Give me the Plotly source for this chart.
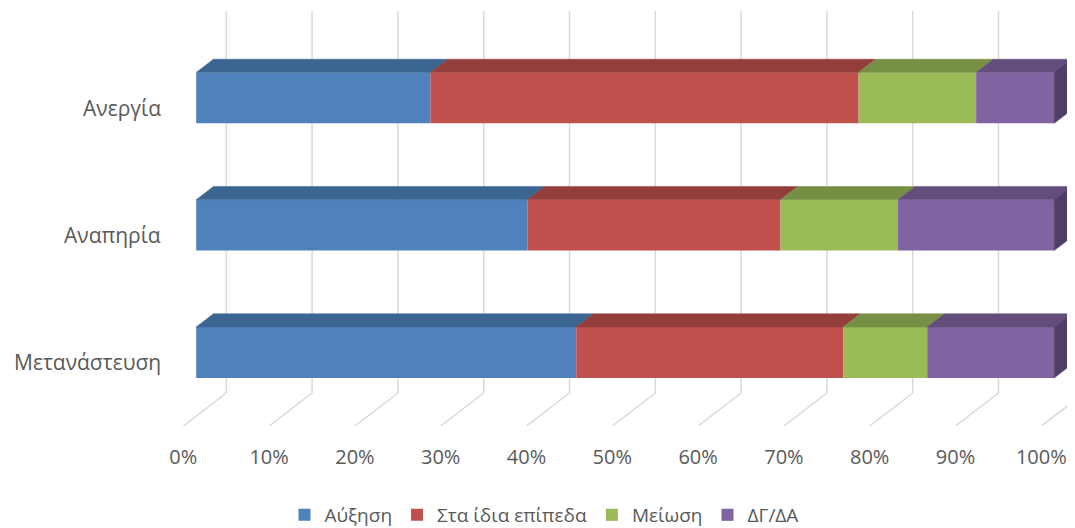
import plotly.graph_objects as go

# ---- data ----
categories = ["Μετανάστευση", "Αναπηρία", "Ανεργία"]  # bottom to top
series_names = ["Αύξηση", "Στα ίδια επίπεδα", "Μείωση", "ΔΓ/ΔΑ"]
increase = [44.3, 38.6, 27.3]
same_level = [31.1, 29.5, 49.9]
decrease = [9.8, 13.7, 13.7]
dk_na = [14.8, 18.2, 9.1]
tick_values = list(range(0, 101, 10))
tick_labels = [f"{v}%" for v in tick_values]

series_values = [increase, same_level, decrease, dk_na]

# ---- styles ----
front_colors = ["#4F81BD", "#C0504D", "#9BBB59", "#8064A2"]
top_colors = ["#3D6592", "#943E3B", "#778F45", "#624D7D"]
side_color = "#4F3F66"
grid_color = "#D9D9D9"
text_color = "#595959"
FONT = "Open Sans"

# ---- geometry (pixel mapping of the pseudo-3D projection) ----
OFF = 8                 # page body margin of the html page
W, H = 1075 - OFF, 528 - OFF
MB = 102
PX0 = 183.3 - OFF       # pixel of 0% on the front plane (figure coords)
PPX = 8.58              # pixels per percent
PPY = 127.3             # pixels per category step
plot_h = H - MB
x_range = [-PX0 / PPX, (W - PX0) / PPX]
y_range = [-0.5, -0.5 + plot_h / PPY]
DX = 43 / PPX      # depth offset in x (data units)
DY = 33 / PPY      # depth offset in y (data units)
D0, D1 = 0.3, 0.7  # bar depth start / end fraction
BW = 0.4           # bar thickness (category units)

ypos = list(range(len(categories)))

fig = go.Figure()

# front faces
cum = [0.0] * len(categories)
bases_all = []
for i, (name, vals) in enumerate(zip(series_names, series_values)):
    bases = [c for c in cum]
    bases_all.append(bases)
    fig.add_trace(go.Bar(
        orientation="h",
        y=[k + D0 * DY for k in ypos],
        x=vals,
        base=[b + D0 * DX for b in bases],
        width=BW,
        name=name,
        marker=dict(color=front_colors[i], line=dict(width=0)),
        hoverinfo="skip",
    ))
    cum = [c + v for c, v in zip(cum, vals)]

# top faces
for i, vals in enumerate(series_values):
    xs, ys = [], []
    for k, (b, v) in enumerate(zip(bases_all[i], vals)):
        yt = k + BW / 2 + D0 * DY
        x0 = b + D0 * DX
        x1 = b + v + D0 * DX
        ddx = (D1 - D0) * DX
        ddy = (D1 - D0) * DY
        xs += [x0, x1, x1 + ddx, x0 + ddx, x0, None]
        ys += [yt, yt, yt + ddy, yt + ddy, yt, None]
    fig.add_trace(go.Scatter(
        x=xs, y=ys, mode="lines", fill="toself",
        fillcolor=top_colors[i],
        line=dict(color=top_colors[i], width=0.5),
        showlegend=False, hoverinfo="skip",
    ))

# right side face of the last segment
xs, ys = [], []
for k, total in enumerate(cum):
    xf = total + D0 * DX
    yb = k - BW / 2 + D0 * DY
    yt = k + BW / 2 + D0 * DY
    ddx = (D1 - D0) * DX
    ddy = (D1 - D0) * DY
    xs += [xf, xf + ddx, xf + ddx, xf, xf, None]
    ys += [yb, yb + ddy, yt + ddy, yt, yb, None]
fig.add_trace(go.Scatter(
    x=xs, y=ys, mode="lines", fill="toself",
    fillcolor=side_color, line=dict(color=side_color, width=0.5),
    showlegend=False, hoverinfo="skip",
))

# gridlines: floor diagonals + back-wall verticals
shapes = []
y_floor = -0.5
y_top = len(categories) - 0.5
for v in tick_values:
    shapes.append(dict(type="line", xref="x", yref="y",
                       x0=v, y0=y_floor, x1=v + DX, y1=y_floor + DY,
                       line=dict(color=grid_color, width=1.5), layer="below"))
    shapes.append(dict(type="line", xref="x", yref="y",
                       x0=v + DX, y0=y_floor + DY, x1=v + DX, y1=y_top + DY,
                       line=dict(color=grid_color, width=1.5), layer="below"))

# category labels
annotations = []
for k, cat in enumerate(categories):
    annotations.append(dict(
        x=(163 - OFF - PX0) / PPX, y=k, xref="x", yref="y",
        text=cat, showarrow=False, xanchor="right", yanchor="middle",
        font=dict(family=FONT, size=21, color=text_color),
    ))

fig.update_layout(
    width=W, height=H,
    margin=dict(l=0, r=0, t=0, b=MB, autoexpand=False),
    paper_bgcolor="white", plot_bgcolor="white",
    barmode="overlay",
    shapes=shapes,
    annotations=annotations,
    showlegend=True,
    legend=dict(orientation="h", x=(544 - OFF) / W, xanchor="center",
                y=-(515 - OFF - plot_h) / plot_h, yanchor="middle",
                font=dict(family=FONT, size=19, color=text_color),
                itemwidth=30, traceorder="normal"),
    xaxis=dict(range=x_range, showgrid=False, zeroline=False, showline=False,
               tickmode="array", tickvals=tick_values, ticktext=tick_labels,
               ticks="", ticklabelstandoff=17, automargin=False,
               tickfont=dict(family=FONT, size=20, color=text_color),
               fixedrange=True),
    yaxis=dict(range=y_range, visible=False, fixedrange=True, automargin=False),
    font=dict(family=FONT, color=text_color),
)

fig.write_html("out.html")
